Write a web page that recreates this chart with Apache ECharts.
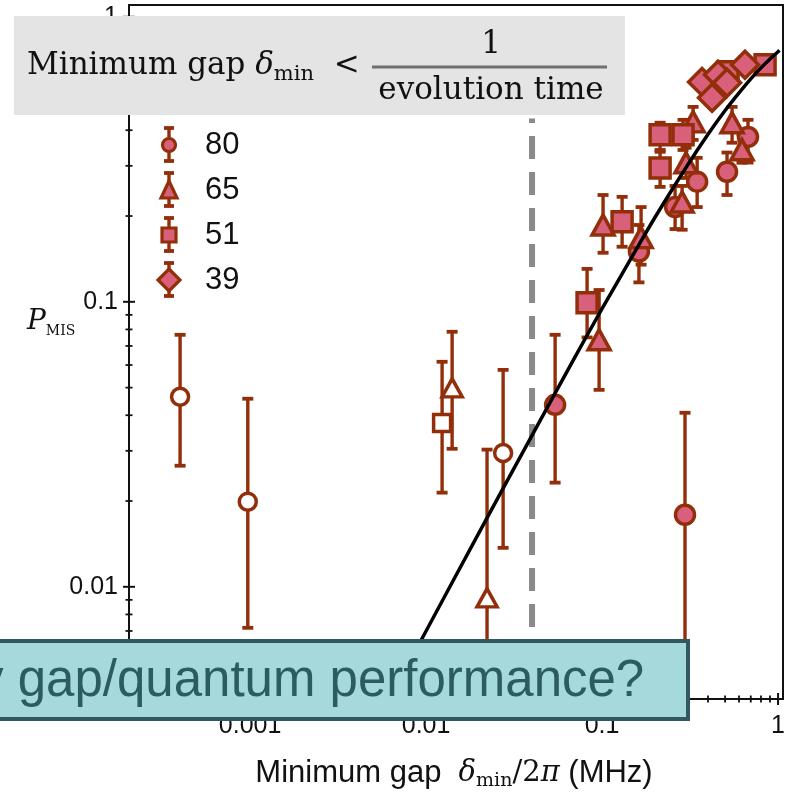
<!DOCTYPE html>
<html><head><meta charset="utf-8">
<script src="https://cdn.jsdelivr.net/npm/echarts@6/dist/echarts.min.js"></script>
<style>html,body{margin:0;padding:0;background:#fff}#c{width:788px;height:792px}</style>
</head><body><div id="c"></div>
<script>
// ---- axis ranges (log) ----
const X_MIN = 2.05e-4, X_MAX = 1.067;
const Y_MIN = 0.00404, Y_MAX = 1.10;
const xMajorTicks = [0.001, 0.01, 0.1, 1];
const yMajorTicks = [0.01, 0.1, 1];
const minorMultipliers = [2, 3, 4, 5, 6, 7, 8, 9];
const legendLabels = ['80', '65', '51', '39'];

// ---- data: [delta_min/2pi (MHz), P_MIS, error low, error high] ----
const series80Filled = [
  [0.0541, 0.0435, 0.0232, 0.0766],
  [0.296, 0.0179, 0.003, 0.0408],
  [0.162, 0.150, 0.117, 0.186],
  [0.347, 0.264, 0.215, 0.320],
  [0.260, 0.215, 0.180, 0.255],
  [0.513, 0.286, 0.237, 0.334],
  [0.675, 0.379, 0.308, 0.435]
];
const series80Open = [
  [0.00040, 0.0464, 0.0266, 0.0766],
  [0.00097, 0.0199, 0.00718, 0.0457],
  [0.0274, 0.0295, 0.0137, 0.0577]
];
const series65Filled = [
  [0.0962, 0.0736, 0.0491, 0.110],
  [0.1013, 0.186, 0.1486, 0.237],
  [0.1666, 0.168, 0.135, 0.215],
  [0.329, 0.428, 0.370, 0.483],
  [0.300, 0.3075, 0.272, 0.347],
  [0.285, 0.224, 0.179, 0.255],
  [0.548, 0.425, 0.3615, 0.483],
  [0.624, 0.3415, 0.3075, 0.386]
];
const series65Open = [
  [0.01406, 0.0499, 0.0305, 0.0785],
  [0.0222, 0.00915, 0.003, 0.0303]
];
const series51Filled = [
  [0.0822, 0.0992, 0.075, 0.1305],
  [0.130, 0.191, 0.156, 0.2335],
  [0.2137, 0.3855, 0.341, 0.425],
  [0.2885, 0.3855, 0.341, 0.435],
  [0.2137, 0.295, 0.253, 0.336],
  [0.52, 0.641, 0.60, 0.68],
  [0.844, 0.679, 0.64, 0.72]
];
const series51Open = [
  [0.01233, 0.0376, 0.0214, 0.0616]
];
const series39Filled = [
  [0.370, 0.591, 0.56, 0.62],
  [0.4217, 0.520, 0.49, 0.55],
  [0.456, 0.626, 0.59, 0.66],
  [0.513, 0.587, 0.555, 0.62],
  [0.649, 0.679, 0.645, 0.715]
];
// fit curve
const fitDelta = [0.006, 0.01, 0.02, 0.04, 0.07, 0.1, 0.15, 0.2, 0.3, 0.4, 0.5, 0.6, 0.7, 0.8, 0.9, 1.0, 1.02];
const fitP =     [0.0039, 0.0070, 0.0155, 0.0340, 0.0638, 0.0946, 0.146, 0.198, 0.296, 0.387, 0.469, 0.541, 0.606, 0.662, 0.711, 0.754, 0.762];
const thresholdDelta = 0.04;
const thresholdTop = 0.44;

// ---- styles ----
const DARK = '#922f0a';
const PINK = '#d9607a';
const SANS = 'Liberation Sans';
const SERIF = 'DejaVu Serif';

const chart = echarts.init(document.getElementById('c'), null, {renderer: 'canvas'});

function isDecade(v) { const l = Math.log10(v); return Math.abs(l - Math.round(l)) < 1e-6; }
function fmt(v) { return isDecade(v) ? String(+Math.pow(10, Math.round(Math.log10(v))).toPrecision(1)) : ''; }

// tick list
const xTicks = [], yTicks = [];
xMajorTicks.forEach(v => xTicks.push([v, Y_MIN, 1]));
yMajorTicks.forEach(v => yTicks.push([X_MIN, v, 1]));
[0.0001, 0.001, 0.01, 0.1].forEach(d => minorMultipliers.forEach(m => {
  const v = +(d * m).toPrecision(2);
  if (v > X_MIN && v < X_MAX) xTicks.push([v, Y_MIN, 0]);
}));
[0.001, 0.01, 0.1].forEach(d => minorMultipliers.forEach(m => {
  const v = +(d * m).toPrecision(2);
  if (v > Y_MIN && v < Y_MAX) yTicks.push([X_MIN, v, 0]);
}));

function errRender(params, api) {
  const x = api.value(0), lo = api.value(2), hi = api.value(3);
  const a = api.coord([x, lo]), b = api.coord([x, hi]);
  const hw = 5.5;
  const st = {stroke: DARK, lineWidth: 3.4};
  return {type: 'group', children: [
    {type: 'line', shape: {x1: a[0], y1: a[1], x2: b[0], y2: b[1]}, style: st},
    {type: 'line', shape: {x1: a[0] - hw, y1: a[1], x2: a[0] + hw, y2: a[1]}, style: {stroke: DARK, lineWidth: 3.8}},
    {type: 'line', shape: {x1: b[0] - hw, y1: b[1], x2: b[0] + hw, y2: b[1]}, style: {stroke: DARK, lineWidth: 3.8}}
  ]};
}
function tickRender(params, api) {
  const p = api.coord([api.value(0), api.value(1)]);
  const major = api.value(2) === 1;
  const len = major ? 6 : 3.5;
  const isX = params.seriesName === 'xticks';
  const shape = isX ? {x1: p[0], y1: p[1] - len, x2: p[0], y2: p[1] + len}
                    : {x1: p[0] - len, y1: p[1], x2: p[0] + len, y2: p[1]};
  return {type: 'line', shape, style: {stroke: '#111', lineWidth: major ? 2 : 1.8}};
}

const allErr = [].concat(series80Filled, series80Open, series65Filled, series65Open, series51Filled, series51Open, series39Filled);

function scatter(name, data, symbol, size, filled) {
  return {
    name, type: 'scatter', data: data.map(d => [d[0], d[1]]), symbol, symbolSize: size, z: 4,
    itemStyle: {color: filled ? PINK : '#ffffff', borderColor: DARK, borderWidth: 3.5, opacity: 1},
    emphasis: {disabled: true}, silent: true
  };
}

// legend graphics
const legendGraphics = [];
const legendY = [145, 190, 235, 280];
const legendShapes = ['circle', 'triangle', 'rect', 'diamond'];
legendShapes.forEach((s, i) => {
  const cx = 169, cy = legendY[i];
  legendGraphics.push({type: 'line', shape: {x1: cx, y1: cy - 17, x2: cx, y2: cy + 16}, style: {stroke: DARK, lineWidth: 3.4}});
  legendGraphics.push({type: 'line', shape: {x1: cx - 5, y1: cy - 17, x2: cx + 5, y2: cy - 17}, style: {stroke: DARK, lineWidth: 3.8}});
  legendGraphics.push({type: 'line', shape: {x1: cx - 5, y1: cy + 16, x2: cx + 5, y2: cy + 16}, style: {stroke: DARK, lineWidth: 3.8}});
  const ms = {fill: PINK, stroke: DARK, lineWidth: 3.2};
  if (s === 'circle') legendGraphics.push({type: 'circle', shape: {cx, cy, r: 6.5}, style: ms});
  if (s === 'triangle') legendGraphics.push({type: 'polygon', shape: {points: [[cx, cy - 9], [cx + 8, cy + 8], [cx - 8, cy + 8]]}, style: ms});
  if (s === 'rect') legendGraphics.push({type: 'rect', shape: {x: cx - 7, y: cy - 7, width: 14, height: 14}, style: ms});
  if (s === 'diamond') legendGraphics.push({type: 'polygon', shape: {points: [[cx, cy - 11], [cx + 11, cy], [cx, cy + 11], [cx - 11, cy]]}, style: ms});
  legendGraphics.push({type: 'text', style: {text: legendLabels[i], x: 205, y: cy, verticalAlign: 'middle', font: '31px "' + SANS + '"', fill: '#111'}});
});

const option = {
  animation: false,
  backgroundColor: '#ffffff',
  grid: {left: 129, right: 5, top: 5, bottom: 93, show: true, borderColor: '#111', borderWidth: 2, backgroundColor: 'transparent', containLabel: false},
  xAxis: {
    type: 'log', logBase: 10, min: X_MIN, max: X_MAX,
    axisLine: {show: true, onZero: false, lineStyle: {color: '#111', width: 2}},
    axisTick: {show: false}, minorTick: {show: false}, splitLine: {show: false}, minorSplitLine: {show: false},
    axisLabel: {formatter: fmt, fontSize: 25, color: '#111', margin: 15, fontFamily: SANS, showMinLabel: true, showMaxLabel: true}
  },
  yAxis: {
    type: 'log', logBase: 10, min: Y_MIN, max: Y_MAX,
    axisLine: {show: true, onZero: false, lineStyle: {color: '#111', width: 2}},
    axisTick: {show: false}, minorTick: {show: false}, splitLine: {show: false}, minorSplitLine: {show: false},
    axisLabel: {formatter: fmt, fontSize: 25, color: '#111', margin: 11, fontFamily: SANS, showMinLabel: true, showMaxLabel: true}
  },
  series: [
    {name: 'threshold', type: 'line', data: [[thresholdDelta, Y_MIN], [thresholdDelta, thresholdTop]], symbol: 'none', z: 1, silent: true,
     lineStyle: {color: '#8a8a8a', width: 6, type: [23, 13], cap: 'butt'}},
    {name: 'errors', type: 'custom', renderItem: errRender, data: allErr, encode: {x: 0, y: 1}, z: 3, clip: true, silent: true},
    scatter('80', series80Filled, 'circle', 19, true),
    scatter('80o', series80Open, 'circle', 17, false),
    scatter('65', series65Filled, 'triangle', [22, 20], true),
    scatter('65o', series65Open, 'triangle', [20, 18], false),
    scatter('51', series51Filled, 'rect', 20, true),
    scatter('51o', series51Open, 'rect', 17, false),
    scatter('39', series39Filled, 'diamond', 27, true),
    {name: 'fit', type: 'line', data: fitDelta.map((d, i) => [d, fitP[i]]), symbol: 'none', smooth: 0.3, z: 5, silent: true,
     lineStyle: {color: '#000', width: 3.5}},
    {name: 'xticks', type: 'custom', renderItem: tickRender, data: xTicks, encode: {x: 0, y: 1}, z: 6, clip: false, silent: true},
    {name: 'yticks', type: 'custom', renderItem: tickRender, data: yTicks, encode: {x: 0, y: 1}, z: 6, clip: false, silent: true}
  ],
  graphic: [
    // y-axis name
    {type: 'text', z: 50, style: {
      text: '{p|P}{s|MIS}', x: 27, y: 322, verticalAlign: 'middle',
      rich: {p: {fontFamily: SERIF, fontStyle: 'italic', fontSize: 28, lineHeight: 32, verticalAlign: 'middle', fill: '#111'},
             s: {fontFamily: SERIF, fontSize: 14, lineHeight: 17, verticalAlign: 'bottom', fill: '#111'}}}},
    // x-axis name
    {type: 'text', z: 50, style: {
      text: '{a|Minimum gap  }{d|δ}{s|min}{r|/2}{d|π}{a| (MHz)}', x: 454, y: 773, align: 'center', verticalAlign: 'middle',
      rich: {a: {fontFamily: SANS, fontSize: 31, lineHeight: 36, verticalAlign: 'middle', fill: '#111'},
             d: {fontFamily: SERIF, fontStyle: 'italic', fontSize: 29, lineHeight: 36, verticalAlign: 'middle', fill: '#111'},
             r: {fontFamily: SERIF, fontSize: 29, lineHeight: 36, verticalAlign: 'middle', fill: '#111'},
             s: {fontFamily: SERIF, fontSize: 19, lineHeight: 22, verticalAlign: 'bottom', fill: '#111'}}}},
    ...legendGraphics.map(g => Object.assign({z: 40}, g)),
    // grey annotation box
    {type: 'rect', z: 60, shape: {x: 14, y: 16, width: 611, height: 99}, style: {fill: '#e4e4e4'}},
    {type: 'text', z: 61, style: {
      text: '{a|Minimum gap }{d|δ}{s|min}{a|  <}', x: 27, y: 66, verticalAlign: 'middle',
      rich: {a: {fontFamily: SERIF, fontSize: 31, lineHeight: 38, verticalAlign: 'middle', fill: '#111'},
             d: {fontFamily: SERIF, fontStyle: 'italic', fontSize: 31, lineHeight: 38, verticalAlign: 'middle', fill: '#111'},
             s: {fontFamily: SERIF, fontSize: 21, lineHeight: 24, verticalAlign: 'bottom', fill: '#111'}}}},
    {type: 'line', z: 61, shape: {x1: 372, y1: 67, x2: 607, y2: 67}, style: {stroke: '#6f6f6f', lineWidth: 3}},
    {type: 'text', z: 61, style: {text: '1', x: 491, y: 45, align: 'center', verticalAlign: 'middle', font: '31px "' + SERIF + '"', fill: '#111'}},
    {type: 'text', z: 61, style: {text: 'evolution time', x: 491, y: 91, align: 'center', verticalAlign: 'middle', font: '31px "' + SERIF + '"', fill: '#111'}},
    // teal banner
    {type: 'rect', z: 70, shape: {x: -10, y: 641, width: 698, height: 78}, style: {fill: '#a6d9db', stroke: '#2f5860', lineWidth: 4}},
    {type: 'text', z: 71, style: {text: 'y gap/quantum performance?', x: -22, y: 682, verticalAlign: 'middle', font: '51px "' + SANS + '"', fill: '#2c5b62'}}
  ]
};
chart.setOption(option);
</script></body></html>
